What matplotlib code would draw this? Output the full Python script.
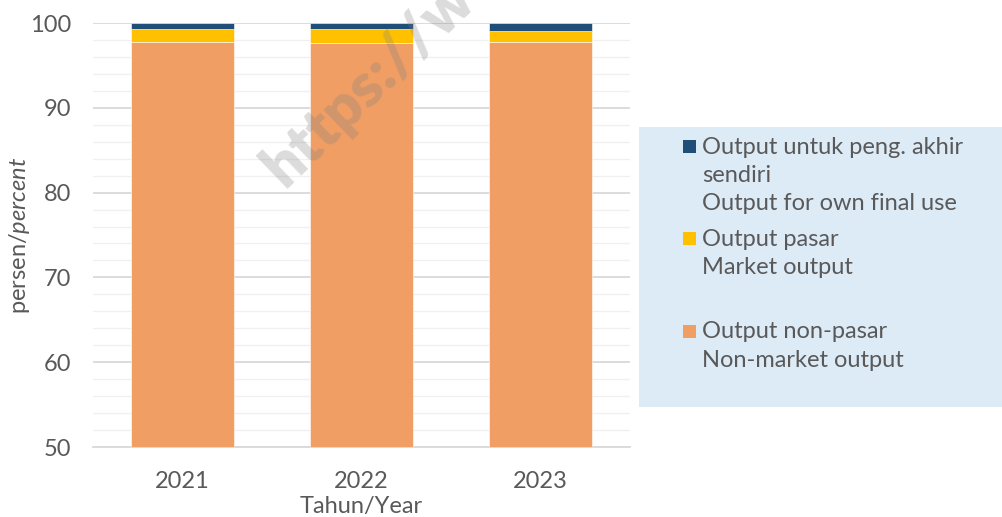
import matplotlib
matplotlib.use("Agg")
import matplotlib.pyplot as plt
from matplotlib.patches import Rectangle
import numpy as np

# data (percent of total output)
years = ["2021", "2022", "2023"]
non_market = [97.73, 97.65, 97.72]
market = [1.53, 1.61, 1.38]
own_use = [0.74, 0.74, 0.90]

colors = {"own": "#1F4E79", "market": "#FFC000", "non": "#F09E64"}
txt_color = "#595959"

plt.rcParams["font.family"] = ["Lato", "DejaVu Sans"]
plt.rcParams["mathtext.fontset"] = "custom"
plt.rcParams["mathtext.rm"] = "Lato"
plt.rcParams["mathtext.it"] = "Lato:italic"

W, H = 1002, 517
fig = plt.figure(figsize=(W / 100, H / 100), dpi=100)
ax = fig.add_axes([93 / W, 1 - 447 / H, (630 - 93) / W, (447 - 23) / H])

x = np.arange(len(years))
bw = 0.57
base = np.array(non_market)
ax.bar(x, non_market, width=bw, color=colors["non"], edgecolor="white", linewidth=0.4, zorder=3)
ax.bar(x, market, width=bw, bottom=base, color=colors["market"], edgecolor="white", linewidth=0.4, zorder=3)
ax.bar(x, own_use, width=bw, bottom=base + np.array(market), color=colors["own"],
       edgecolor="white", linewidth=0.4, zorder=3)

ax.set_xlim(-0.5, 2.5)
ax.set_ylim(50, 100)
ax.set_yticks(np.arange(50, 101, 10))
ax.set_yticks(np.arange(50, 101, 2), minor=True)
ax.grid(axis="y", which="major", color="#D9D9D9", linewidth=1.3, zorder=0)
ax.grid(axis="y", which="minor", color="#F0F0F0", linewidth=1.0, zorder=0)
ax.set_xticks(x)
ax.set_xticklabels(years)
ax.tick_params(axis="y", which="both", length=0, pad=16, labelsize=17, labelcolor=txt_color)
ax.tick_params(axis="x", length=0, pad=17, labelsize=17, labelcolor=txt_color)
for s in ["top", "right", "left"]:
    ax.spines[s].set_visible(False)
ax.spines["bottom"].set_color("#D9D9D9")
ax.spines["bottom"].set_linewidth(1.3)

ax.set_ylabel(r"persen/$\it{percent}$", fontsize=17, color=txt_color, labelpad=-2)
ax.set_xlabel("Tahun/Year", fontsize=17, color=txt_color, labelpad=3)

# legend panel
fig.patches.append(Rectangle((639 / W, 1 - 407 / H), (W - 639) / W, (407 - 127) / H,
                             transform=fig.transFigure, facecolor="#DDEBF7", edgecolor="none"))
entries = [
    (colors["own"], 147, ["Output untuk peng. akhir", "sendiri", "Output for own final use"]),
    (colors["market"], 239, ["Output pasar", "Market output"]),
    (colors["non"], 332, ["Output non-pasar", "Non-market output"]),
]
for col, ytop, lines in entries:
    fig.patches.append(Rectangle((683 / W, 1 - (ytop + 6) / H), 13 / W, 13 / H,
                                 transform=fig.transFigure, facecolor=col, edgecolor="none"))
    for i, line in enumerate(lines):
        fig.text(702 / W, 1 - (ytop + i * 28.5) / H, line, fontsize=17, color=txt_color,
                 ha="left", va="center")

# watermark
fig.text(292 / W, 1 - 196 / H, "https://w", fontsize=44, fontweight="heavy", color="#808080",
         alpha=0.28, rotation=44, ha="left", va="bottom", rotation_mode="anchor")

fig.savefig("out.png", dpi=100)
